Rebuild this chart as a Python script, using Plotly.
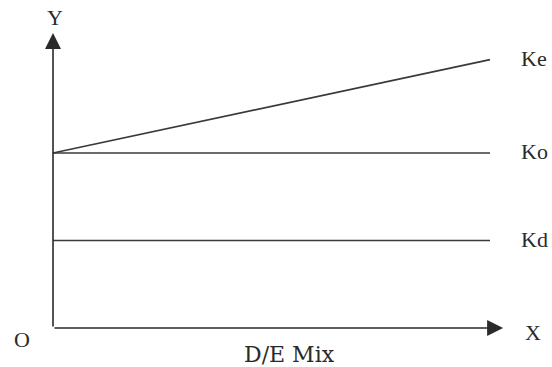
import plotly.graph_objects as go

# Data
x_vals = [0, 10]
ke_vals = [6, 9.2]
ko_vals = [6, 6]
kd_vals = [3, 3]
series_names = ["Ke", "Ko", "Kd"]
x_label = "D/E Mix"
y_axis_top = 10.11
x_axis_end = 10.3

fig = go.Figure()
line_style = dict(color="#3a3a3a", width=1.7)
for name, vals in zip(series_names, [ke_vals, ko_vals, kd_vals]):
    fig.add_trace(go.Scatter(x=x_vals, y=vals, mode="lines", line=line_style,
                             name=name, showlegend=False, hoverinfo="skip"))

ffam = "Liberation Serif, DejaVu Serif, serif"
font = dict(family=ffam, size=22, color="#2a2a2a")

# series labels
for name, vals in zip(series_names, [ke_vals, ko_vals, kd_vals]):
    fig.add_annotation(x=x_vals[-1], y=vals[-1], text=name, showarrow=False,
                       xanchor="left", xshift=29, yanchor="middle", yshift=1, font=font)

# axes arrows
fig.add_annotation(x=0, y=y_axis_top, ax=0, ay=0, axref="x", ayref="y",
                   showarrow=True, arrowhead=2, arrowsize=2.0, arrowwidth=1.6,
                   arrowcolor="#2a2a2a", text="")
fig.add_annotation(x=x_axis_end, y=0, ax=0, ay=0, axref="x", ayref="y",
                   showarrow=True, arrowhead=2, arrowsize=2.0, arrowwidth=1.6,
                   arrowcolor="#2a2a2a", text="")

fig.add_annotation(x=0, y=y_axis_top, text="Y", showarrow=False, yanchor="middle",
                   yshift=16, xshift=2, font=font)
fig.add_annotation(x=x_axis_end, y=0, text="X", showarrow=False, xanchor="center",
                   xshift=30, yshift=-4, font=font)
fig.add_annotation(x=0, y=0, text="O", showarrow=False, xanchor="center",
                   yanchor="middle", xshift=-31, yshift=-11, font=font)
fig.add_annotation(x=5.42, y=0, text=x_label, showarrow=False, yanchor="middle",
                   yshift=-26, font=dict(family="DejaVu Serif, serif", size=22, color="#2a2a2a"))

fig.update_xaxes(range=[-1.213, 11.419], visible=False)
fig.update_yaxes(range=[-1.337, 11.245], visible=False)
fig.update_layout(width=552, height=367, margin=dict(l=0, r=0, t=0, b=0),
                  plot_bgcolor="white", paper_bgcolor="white")

fig.write_html("out.html", config={"displayModeBar": False},
               post_script="document.body.style.margin='0px';")
